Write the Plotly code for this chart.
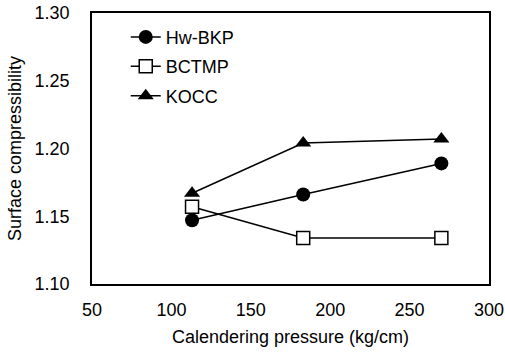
import plotly.graph_objects as go

pressure = [113, 183, 270]
hw_bkp = [1.147, 1.166, 1.189]
bctmp = [1.157, 1.134, 1.134]
kocc = [1.167, 1.204, 1.207]

x_ticks = [50, 100, 150, 200, 250, 300]
y_ticks = [1.10, 1.15, 1.20, 1.25, 1.30]
y_tick_labels = ["1.10", "1.15", "1.20", "1.25", "1.30"]

FONT = "Liberation Sans, Arial, sans-serif"
FS = 18

fig = go.Figure()
fig.add_trace(go.Scatter(
    x=pressure, y=hw_bkp, name="Hw-BKP", mode="lines+markers", legendgroup="a",
    line=dict(color="black", width=1.5),
    marker=dict(symbol="circle", size=14, color="black"),
))
fig.add_trace(go.Scatter(
    x=pressure, y=bctmp, name="BCTMP", mode="lines+markers", legendgroup="b",
    line=dict(color="black", width=1.5),
    marker=dict(symbol="square", size=13, color="white", line=dict(color="black", width=1.5)),
))
fig.add_trace(go.Scatter(
    x=pressure, y=kocc, name="KOCC", mode="lines+markers", legendgroup="c",
    line=dict(color="black", width=1.5),
    marker=dict(symbol="triangle-up", size=14, color="black"),
))

fig.update_layout(
    width=505, height=356,
    margin=dict(l=92, r=16, t=13, b=72, pad=0),
    paper_bgcolor="white", plot_bgcolor="white",
    font=dict(family=FONT, size=FS, color="black"),
    showlegend=True,
    legend=dict(x=0.085, y=0.979, xanchor="left", yanchor="top",
                bgcolor="rgba(0,0,0,0)", font=dict(size=FS, family=FONT),
                tracegroupgap=3, itemwidth=30),
)
fig.update_xaxes(
    range=[50, 300], tickvals=x_ticks, showgrid=False, zeroline=False,
    showline=True, linecolor="black", linewidth=1.5, mirror=True,
    ticks="", ticklabelstandoff=9, automargin=False,
    title=dict(text="Calendering pressure (kg/cm)", standoff=11, font=dict(size=FS)),
    tickfont=dict(size=FS),
)
fig.update_yaxes(
    range=[1.10, 1.30], tickvals=y_ticks, ticktext=y_tick_labels, showgrid=False, zeroline=False,
    showline=True, linecolor="black", linewidth=1.5, mirror=True,
    ticks="", ticklabelstandoff=17, automargin=False,
    title=dict(text="Surface compressibility", standoff=8, font=dict(size=FS)),
    tickfont=dict(size=FS),
)

# remove the browser's default 8px page margin so the figure fills the window
fig.write_html("out.html",
               config={"displayModeBar": False},
               post_script="document.body.style.margin='0';document.body.style.overflow='hidden';")
